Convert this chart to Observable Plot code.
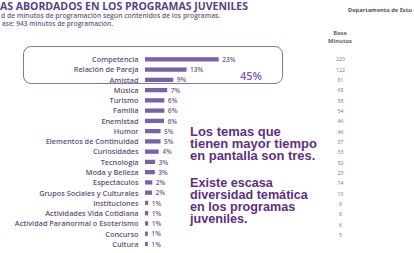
<!DOCTYPE html>
<html>
<head>
<meta charset="utf-8">
<script src="https://cdn.jsdelivr.net/npm/d3@7"></script>
<script src="https://cdn.jsdelivr.net/npm/@observablehq/plot@0.6"></script>
<style>
  html, body { margin: 0; padding: 0; background: #fff; }
  #wrap { position: relative; width: 414px; height: 253px; overflow: hidden; font-family: "Open Sans", sans-serif; }
  .abs { position: absolute; white-space: nowrap; }
  #title { left: 0px; top: 1px; font-size: 10px; font-weight: 700; color: #5b3f85; line-height: 11px; }
  .sub { font-size: 6.9px; color: #6b5d80; line-height: 8px; font-weight: 600; }
  #dept { left: 348px; top: 6px; font-size: 5.8px; font-weight: 700; color: #555; line-height: 8px; }
  #basehdr { left: 322px; top: 29px; width: 36px; text-align: center; font-size: 5.8px; font-weight: 700; color: #666; line-height: 8px; }
  #box { left: 23px; top: 46px; width: 258px; height: 36px; border: 1.2px solid #8474a8; border-radius: 8px; }
  #pct45 { left: 240px; top: 69px; font-size: 11.5px; font-weight: 600; color: #7a5ea8; line-height: 14px; }
  .note { left: 190px; font-family: "Liberation Sans", Arial, sans-serif; font-size: 10px; font-weight: 700; color: #5e2f85; line-height: 12px; }
  #main, #base { position: absolute; left: 0; top: 0; width: 414px; height: 253px; }
  #main svg, #base svg { max-width: none; display: block; }
</style>
</head>
<body>
<div id="wrap">
  <div id="box" class="abs"></div>
  <div id="main"></div>
  <div id="base"></div>
  <div id="title" class="abs">AS ABORDADOS EN LOS PROGRAMAS JUVENILES</div>
  <div id="sub1" class="abs sub" style="left:1px; top:12px;">d de minutos de programación según contenidos de los programas.</div>
  <div id="sub2" class="abs sub" style="left:2px; top:20px;">ase: 943 minutos de programación.</div>
  <div id="dept" class="abs">Departamento de Estu</div>
  <div id="basehdr" class="abs">Base<br>Minutos</div>
  <div id="pct45" class="abs">45%</div>
  <div id="note1" class="abs note" style="top:126px;">Los temas que<br>tienen mayor tiempo<br>en pantalla son tres.</div>
  <div id="note2" class="abs note" style="top:177px;">Existe escasa<br>diversidad temática<br>en los programas<br>juveniles.</div>
</div>
<script>
const categories = [
  "Competencia", "Relación de Pareja", "Amistad", "Música", "Turismo", "Familia",
  "Enemistad", "Humor", "Elementos de Continuidad", "Curiosidades", "Tecnología",
  "Moda y Belleza", "Espectáculos", "Grupos Sociales y Culturales", "Instituciones",
  "Actividades Vida Cotidiana", "Actividad Paranormal o Esoterismo", "Concurso", "Cultura"
];
const shares = [23.2, 13.1, 8.9, 7.0, 6.1, 6.1, 6.0, 4.9, 4.9, 4.3, 3.2, 3.1, 2.3, 2.2, 1.0, 1.0, 1.0, 0.9, 0.9];
const shareLabels = ["23%", "13%", "9%", "7%", "6%", "6%", "6%", "5%", "5%", "4%", "3%", "3%", "2%", "2%", "1%", "1%", "1%", "1%", "1%"];
const baseMinutes = [220, 122, 81, 68, 58, 54, 46, 46, 37, 33, 32, 23, 14, 10, 9, 8, 6, 5];

const rows = categories.map((c, i) => ({cat: c, value: shares[i], label: shareLabels[i]}));

const main = Plot.plot({
  width: 414,
  height: 253,
  margin: 0,
  style: {background: "transparent", fontFamily: "Open Sans, sans-serif", overflow: "visible"},
  x: {domain: [0, 23], range: [145, 218], axis: null},
  y: {domain: categories, range: [54.2, 249.1], paddingInner: 0.58, paddingOuter: 0.29, round: false, axis: null},
  marks: [
    Plot.ruleX([0], {y1: categories[0], y2: categories[categories.length - 1], insetTop: -6, insetBottom: -6, stroke: "#d4d0dc", strokeWidth: 0.8}),
    Plot.barX(rows, {x: "value", y: "cat", fill: "#7a62a8"}),
    Plot.text(rows, {x: 0, y: "cat", text: "cat", textAnchor: "end", dx: -7, fontSize: 7.3, fontWeight: 600, fill: "#5f5078"}),
    Plot.text(rows, {x: "value", y: "cat", text: "label", textAnchor: "start", dx: 3, fontSize: 6.6, fontWeight: 600, fill: "#6f5f8c"})
  ]
});
document.getElementById("main").appendChild(main);

const baseRows = baseMinutes.map((v, i) => ({i, v}));
const base = Plot.plot({
  width: 414,
  height: 253,
  margin: 0,
  style: {background: "transparent", fontFamily: "Open Sans, sans-serif"},
  x: {domain: [0, 1], range: [340, 341], axis: null},
  y: {type: "point", domain: baseMinutes.map((_, i) => i), range: [54, 240], round: false, axis: null},
  marks: [
    Plot.text(baseRows, {x: 0, y: "i", text: d => String(d.v), fontSize: 5.2, fill: "#777"})
  ]
});
document.getElementById("base").appendChild(base);

// fit HTML text widths to the reference's measured widths
function fit(id, target) {
  const el = document.getElementById(id);
  el.style.display = "inline-block";
  const w = el.getBoundingClientRect().width;
  const fs = parseFloat(getComputedStyle(el).fontSize);
  if (w > 0) el.style.fontSize = (fs * target / w).toFixed(2) + "px";
}
fit("title", 248);
fit("sub1", 219);
fit("sub2", 111);
fit("dept", 64);
fit("pct45", 22);
fit("note1", 127);
fit("note2", 118);
</script>
</body>
</html>
